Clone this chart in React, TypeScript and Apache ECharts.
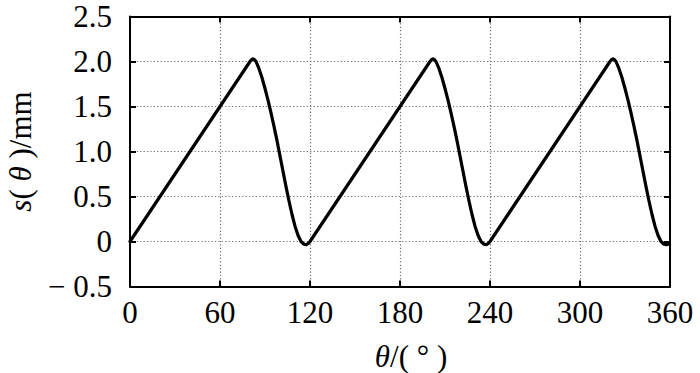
import React, { useEffect, useRef } from "react";
import * as echarts from "echarts";

// Cycle 1 (0°–120°)
const theta1 = [0, 78, 80, 81, 82, 83, 84, 86, 88, 90, 92, 94, 96, 98, 100, 102, 104, 106, 108, 110, 112, 114, 116, 117.5, 119];
const s1 = [0, 1.95, 2.0, 2.02, 2.03, 2.02, 2.0, 1.92, 1.82, 1.7, 1.57, 1.43, 1.28, 1.12, 0.95, 0.78, 0.61, 0.45, 0.3, 0.17, 0.07, 0.0, -0.03, -0.035, -0.02];
// Cycle 2 (120°–240°)
const theta2 = [120, 198, 200, 201, 202, 203, 204, 206, 208, 210, 212, 214, 216, 218, 220, 222, 224, 226, 228, 230, 232, 234, 236, 237.5, 239];
const s2 = [0, 1.95, 2.0, 2.02, 2.03, 2.02, 2.0, 1.92, 1.82, 1.7, 1.57, 1.43, 1.28, 1.12, 0.95, 0.78, 0.61, 0.45, 0.3, 0.17, 0.07, 0.0, -0.03, -0.035, -0.02];
// Cycle 3 (240°–360°)
const theta3 = [240, 318, 320, 321, 322, 323, 324, 326, 328, 330, 332, 334, 336, 338, 340, 342, 344, 346, 348, 350, 352, 354, 356, 357.5, 359];
const s3 = [0, 1.95, 2.0, 2.02, 2.03, 2.02, 2.0, 1.92, 1.82, 1.7, 1.57, 1.43, 1.28, 1.12, 0.95, 0.78, 0.61, 0.45, 0.3, 0.17, 0.07, 0.0, -0.03, -0.035, -0.03];

const xTicks = [0, 60, 120, 180, 240, 300, 360];
const yTicks = [-0.5, 0, 0.5, 1.0, 1.5, 2.0, 2.5];

const FONT = "'Liberation Serif', 'Times New Roman', serif";
const FS = 31;

export default function App() {
  const ref = useRef<HTMLDivElement>(null);
  useEffect(() => {
    if (!ref.current) return;
    const chart = echarts.init(ref.current, undefined, { renderer: "svg" });
    const data: number[][] = [];
    [[theta1, s1], [theta2, s2], [theta3, s3]].forEach(([t, s]) => {
      t.forEach((v, i) => data.push([v, s[i]]));
    });
    const xMin = xTicks[0];
    const xMax = xTicks[xTicks.length - 1];
    const yMin = yTicks[0];
    const yMax = yTicks[yTicks.length - 1];
    const axisLine = { show: true, onZero: false, lineStyle: { color: "#000", width: 2 } };
    const tick = { show: true, inside: true, length: 6, lineStyle: { color: "#000", width: 2 } };
    const grid = { show: true, lineStyle: { color: "#6f6f6f", width: 1.2, type: [1.2, 2.2] } };
    const rich = { i: { fontStyle: "italic", fontSize: FS, fontFamily: FONT, color: "#000" } };
    chart.setOption({
      animation: false,
      grid: { left: 130, top: 16.5, width: 540, height: 270, containLabel: false, outerBoundsMode: "none" },
      xAxis: [
        {
          type: "value",
          min: xMin,
          max: xMax,
          interval: 60,
          position: "bottom",
          axisLine,
          axisTick: tick,
          splitLine: grid,
          axisLabel: { color: "#000", fontSize: FS, fontFamily: FONT, margin: 10 },
          name: "{i|θ}/( ° )",
          nameLocation: "middle",
          nameGap: 54,
          nameTextStyle: {
            color: "#000",
            fontSize: FS,
            fontFamily: FONT,
            padding: [0, 0, 0, 22],
            rich,
          },
        },
        {
          type: "value",
          min: xMin,
          max: xMax,
          interval: 60,
          position: "top",
          axisLine,
          axisTick: tick,
          splitLine: { show: false },
          axisLabel: { show: false },
        },
      ],
      yAxis: [
        {
          type: "value",
          min: yMin,
          max: yMax,
          interval: 0.5,
          position: "left",
          axisLine,
          axisTick: tick,
          splitLine: grid,
          axisLabel: {
            color: "#000",
            fontSize: FS,
            fontFamily: FONT,
            margin: 18,
            padding: [5, 0, 0, 0],
            formatter: (v: number) => (Math.abs(v) < 1e-9 ? "0" : v < 0 ? "\u2212 " + Math.abs(v).toFixed(1) : v.toFixed(1)),
          },
          name: "{i|s}( {i|θ} )/mm",
          nameLocation: "middle",
          nameGap: 94,
          nameRotate: 90,
          nameTextStyle: {
            color: "#000",
            fontSize: FS,
            fontFamily: FONT,
            lineHeight: 31,
            rich: { i: { ...rich.i, lineHeight: 31 } },
          },
        },
        {
          type: "value",
          min: yMin,
          max: yMax,
          interval: 0.5,
          position: "right",
          axisLine,
          axisTick: tick,
          splitLine: { show: false },
          axisLabel: { show: false },
        },
      ],
      series: [
        {
          type: "line",
          xAxisIndex: 0,
          yAxisIndex: 0,
          data,
          showSymbol: false,
          smooth: false,
          lineStyle: { color: "#000", width: 3.2, cap: "round", join: "round" },
        },
      ],
    });
    return () => chart.dispose();
  }, []);
  return <div ref={ref} style={{ position: "fixed", left: 0, top: 0, width: 700, height: 373, background: "#fff" }} />;
}
